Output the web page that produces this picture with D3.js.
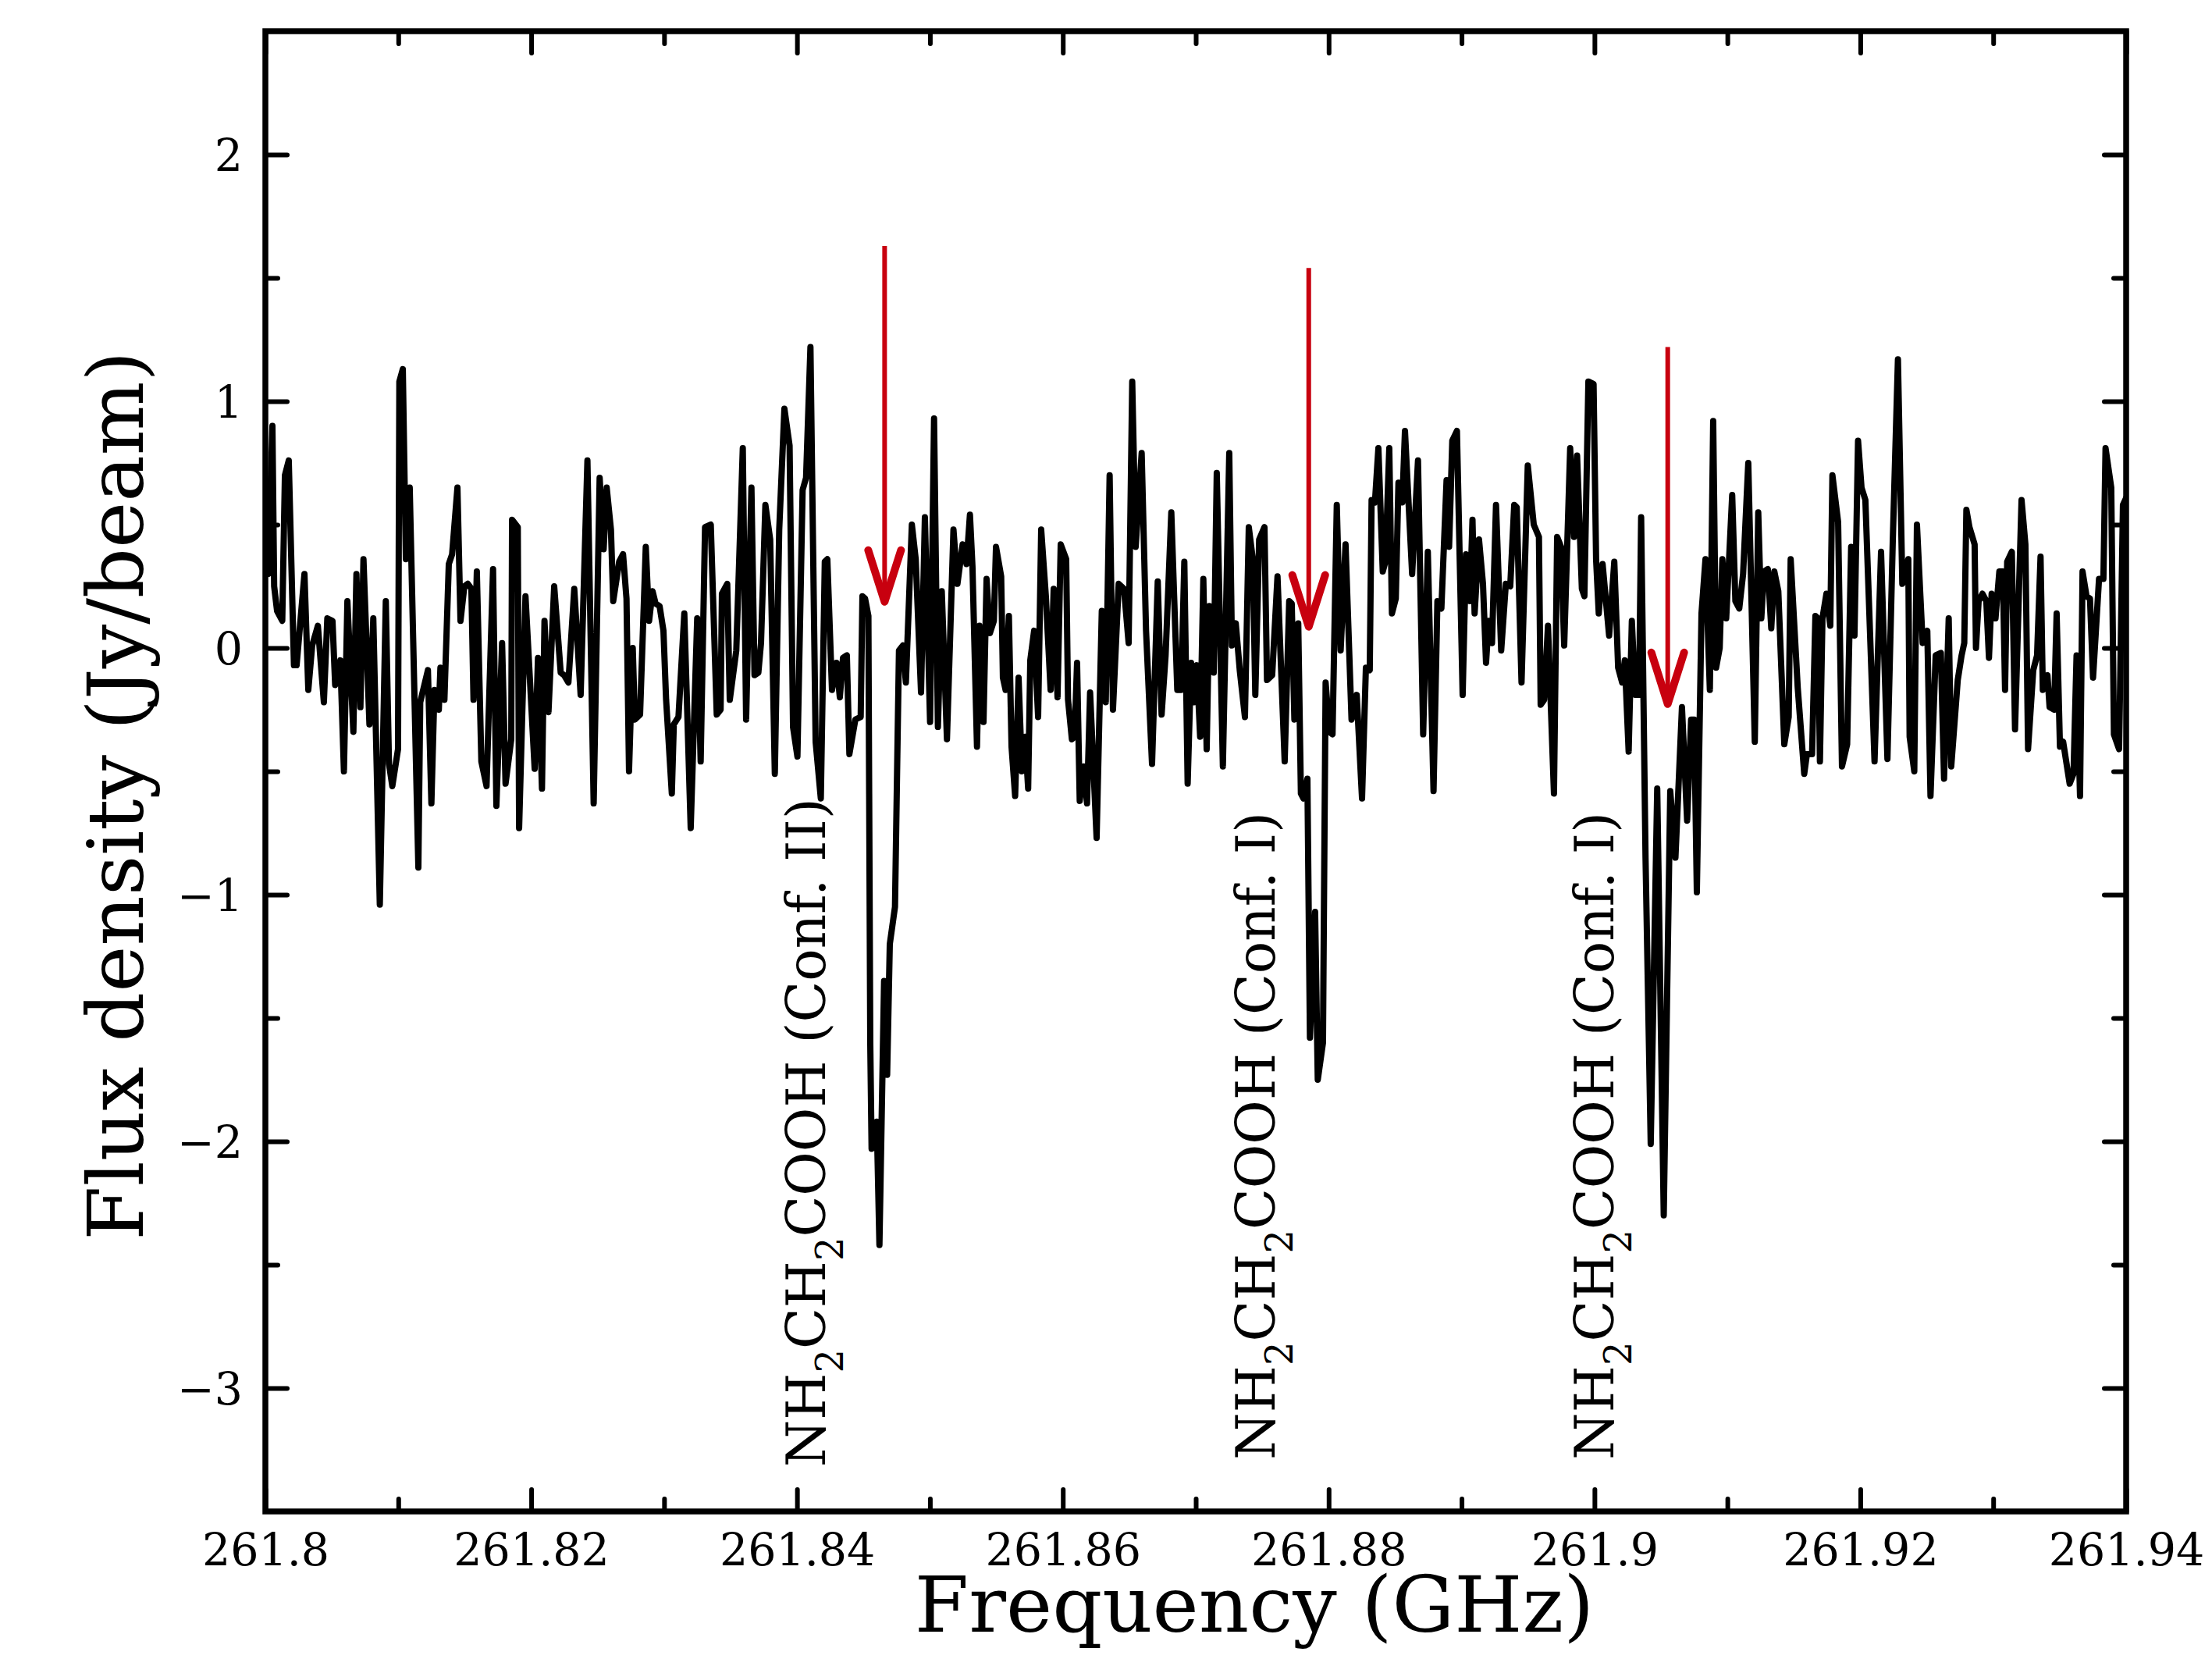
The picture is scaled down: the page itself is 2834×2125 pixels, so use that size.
<!DOCTYPE html>
<html>
<head>
<meta charset="utf-8">
<script src="https://cdn.jsdelivr.net/npm/d3@7"></script>
<style>
  html, body { margin: 0; padding: 0; background: #fff; }
  svg { display: block; }
  text { font-family: "DejaVu Serif", serif; fill: #000; }
</style>
</head>
<body>
<svg id="chart" width="2834" height="2125"></svg>
<script>
'use strict';

// spectrum: channel offsets (MHz above 261.8 GHz) and flux density (Jy/beam)
var baseGHz = 261.8;
var offsetMHz = [
    0.00, 0.20, 0.53, 0.66, 0.88, 1.27, 1.47, 1.76, 2.15, 2.35,
    2.94, 3.23, 3.52, 3.95, 4.40, 4.66, 5.05, 5.25, 5.64, 5.91,
    6.17, 6.62, 6.85, 7.15, 7.38, 7.83, 8.12, 8.61, 9.06, 9.30,
    9.55, 9.98, 10.08, 10.34, 10.57, 10.86, 11.51, 11.65, 12.23, 12.49,
    12.72, 13.05, 13.17, 13.47, 13.80, 14.05, 14.45, 14.68, 14.97, 15.23,
    15.50, 15.66, 15.91, 16.25, 16.64, 17.13, 17.38, 17.81, 18.07, 18.50,
    18.56, 18.99, 19.09, 19.57, 20.26, 20.51, 20.81, 21.00, 21.30, 21.73,
    22.22, 22.47, 22.80, 23.24, 23.72, 24.23, 24.70, 25.15, 25.45, 25.68,
    26.00, 26.17, 26.62, 26.91, 27.17, 27.36, 27.64, 27.80, 28.19, 28.62,
    28.87, 29.13, 29.36, 29.66, 29.95, 30.15, 30.58, 30.73, 31.08, 31.52,
    32.00, 32.49, 32.75, 33.08, 33.51, 33.96, 34.25, 34.35, 34.75, 34.94,
    35.43, 35.92, 36.17, 36.57, 36.80, 37.09, 37.29, 37.62, 37.98, 38.33,
    38.66, 39.05, 39.44, 39.70, 40.03, 40.42, 40.68, 41.01, 41.40, 41.79,
    42.09, 42.28, 42.63, 42.97, 43.22, 43.46, 43.75, 43.94, 44.39, 44.79,
    44.92, 45.12, 45.37, 45.51, 45.61, 46.00, 46.20, 46.55, 46.78, 46.98,
    47.37, 47.67, 47.96, 48.19, 48.64, 48.93, 49.33, 49.62, 50.01, 50.31,
    50.60, 50.89, 51.28, 51.77, 52.07, 52.46, 52.75, 53.01, 53.20, 53.54,
    53.73, 54.03, 54.26, 54.51, 54.81, 54.97, 55.36, 55.49, 55.69, 55.94,
    56.14, 56.41, 56.67, 56.92, 57.16, 57.39, 57.55, 57.84, 58.14, 58.37,
    58.72, 59.08, 59.31, 59.60, 59.84, 60.25, 60.39, 60.68, 60.88, 61.07,
    61.27, 61.56, 61.82, 62.05, 62.54, 62.93, 63.23, 63.52, 63.77, 64.20,
    64.60, 64.95, 65.22, 65.48, 65.93, 66.26, 66.71, 67.14, 67.43, 67.73,
    68.16, 68.61, 68.90, 69.14, 69.39, 69.65, 69.88, 70.08, 70.33, 70.57,
    70.82, 71.02, 71.35, 71.58, 72.04, 72.52, 72.72, 73.01, 73.31, 73.70,
    73.99, 74.29, 74.48, 74.77, 75.17, 75.36, 75.75, 76.15, 76.69, 77.03,
    77.22, 77.42, 77.71, 77.91, 78.10, 78.40, 78.59, 78.98, 79.18, 79.57,
    79.77, 80.06, 80.29, 80.61, 80.90, 81.27, 81.72, 82.11, 82.51, 82.80,
    83.09, 83.23, 83.48, 83.74, 84.07, 84.27, 84.56, 84.76, 85.05, 85.25,
    85.54, 85.74, 86.28, 86.72, 87.11, 87.46, 87.89, 88.18, 88.48, 88.87,
    89.06, 89.30, 89.65, 90.08, 90.33, 90.63, 90.82, 90.98, 91.31, 91.61,
    91.84, 92.04, 92.29, 92.59, 92.98, 93.33, 93.66, 93.96, 94.15, 94.51,
    94.98, 95.43, 95.82, 95.95, 96.21, 96.50, 96.95, 97.19, 97.48, 97.72,
    98.17, 98.46, 98.69, 99.05, 99.24, 99.54, 99.93, 100.12, 100.32, 100.61,
    101.10, 101.49, 101.78, 102.08, 102.28, 102.57, 102.81, 103.06, 103.35, 103.51,
    103.84, 104.23, 104.72, 105.21, 105.70, 106.09, 106.58, 106.97, 107.27, 107.50,
    107.70, 108.05, 108.35, 108.68, 108.93, 109.15, 109.42, 109.62, 109.91, 110.36,
    110.60, 110.89, 111.18, 111.57, 112.06, 112.32, 112.55, 112.75, 113.04, 113.30,
    113.53, 113.83, 114.28, 114.61, 114.76, 115.29, 115.78, 115.98, 116.37, 116.62,
    116.82, 116.96, 117.15, 117.45, 117.74, 117.90, 118.33, 118.62, 119.01, 119.31,
    119.56, 119.83, 120.09, 120.38, 121.07, 121.56, 122.04, 122.44, 122.83, 123.16,
    123.61, 123.71, 124.06, 124.26, 124.69, 125.04, 125.28, 125.67, 126.06, 126.30,
    126.65, 126.84, 127.33, 127.62, 127.82, 127.98, 128.21, 128.60, 128.70, 128.90,
    129.19, 129.48, 129.68, 129.88, 130.17, 130.46, 130.72, 130.89, 131.05, 131.40,
    131.64, 132.13, 132.42, 132.62, 133.01, 133.30, 133.56, 133.73, 134.08, 134.24,
    134.58, 134.77, 135.02, 135.26, 135.75, 136.04, 136.27, 136.53, 136.72, 137.02,
    137.28, 137.51, 137.96, 138.29, 138.45, 138.88, 139.08, 139.47, 139.76, 140.10
];
var fluxJy = [
    0.30, 0.30, 0.90, 0.25, 0.15, 0.11, 0.70, 0.76, -0.07, -0.07,
    0.30, -0.17, 0.01, 0.09, -0.22, 0.12, 0.11, -0.15, -0.05, -0.50,
    0.19, -0.34, 0.30, -0.24, 0.36, -0.31, 0.12, -1.04, 0.19, -0.47,
    -0.56, -0.41, 1.08, 1.13, 0.36, 0.65, -0.89, -0.22, -0.09, -0.63,
    -0.17, -0.25, -0.08, -0.21, 0.34, 0.38, 0.65, 0.11, 0.25, 0.26,
    0.24, -0.21, 0.31, -0.46, -0.56, 0.32, -0.64, 0.02, -0.55, -0.37,
    0.52, 0.49, -0.73, 0.21, -0.49, -0.04, -0.57, 0.11, -0.26, 0.25,
    -0.10, -0.11, -0.14, 0.24, -0.19, 0.76, -0.63, 0.69, 0.40, 0.65,
    0.48, 0.19, 0.35, 0.38, 0.20, -0.50, 0.00, -0.29, -0.27, 0.41,
    0.11, 0.23, 0.18, 0.17, 0.07, -0.21, -0.59, -0.31, -0.28, 0.14,
    -0.73, 0.12, -0.46, 0.49, 0.50, -0.27, -0.25, 0.22, 0.26, -0.21,
    -0.01, 0.81, -0.29, 0.65, -0.11, -0.10, 0.02, 0.58, 0.44, -0.51,
    0.48, 0.97, 0.82, -0.32, -0.44, 0.64, 0.69, 1.22, -0.38, -0.61,
    0.35, 0.36, -0.17, -0.06, -0.20, -0.04, -0.03, -0.43, -0.29, -0.28,
    0.21, 0.20, 0.13, -1.60, -2.03, -1.92, -2.42, -1.35, -1.73, -1.20,
    -1.05, -0.01, 0.01, -0.14, 0.50, 0.36, -0.18, 0.53, -0.30, 0.93,
    -0.32, 0.23, -0.37, 0.48, 0.26, 0.42, 0.34, 0.54, 0.33, -0.40,
    0.09, -0.30, 0.28, 0.06, 0.11, 0.41, 0.29, -0.12, -0.17, 0.13,
    -0.40, -0.60, -0.12, -0.50, -0.36, -0.57, -0.05, 0.07, -0.28, 0.48,
    0.21, -0.17, 0.24, -0.20, 0.42, 0.36, -0.21, -0.37, -0.36, -0.06,
    -0.62, -0.48, -0.63, -0.18, -0.77, 0.15, -0.22, 0.70, -0.25, 0.26,
    0.24, 0.02, 1.08, 0.41, 0.79, 0.07, -0.47, 0.27, -0.27, -0.03,
    0.55, -0.17, -0.17, 0.35, -0.55, -0.06, -0.22, -0.07, -0.36, 0.28,
    -0.41, 0.17, -0.10, 0.71, -0.48, 0.79, 0.01, 0.10, -0.09, -0.28,
    0.49, 0.36, -0.19, 0.44, 0.49, -0.13, -0.11, 0.29, -0.46, 0.19,
    0.18, -0.29, 0.10, -0.59, -0.61, -0.53, -1.58, -1.07, -1.75, -1.60,
    -0.14, -0.34, -0.35, 0.58, -0.01, 0.42, -0.29, -0.19, -0.61, -0.08,
    -0.09, 0.60, 0.59, 0.81, 0.31, 0.35, 0.81, 0.14, 0.20, 0.67,
    0.59, 0.88, 0.30, 0.76, -0.35, 0.39, -0.58, 0.19, 0.16, 0.68,
    0.41, 0.84, 0.88, -0.19, 0.38, 0.19, 0.52, 0.14, 0.44, 0.26,
    -0.06, 0.11, 0.02, 0.58, -0.01, 0.26, 0.25, 0.58, 0.57, -0.14,
    0.74, 0.50, 0.45, -0.23, -0.21, 0.09, -0.59, 0.45, 0.41, 0.01,
    0.81, 0.45, 0.78, 0.24, 0.21, 1.08, 1.07, 0.36, 0.14, 0.34,
    0.05, 0.35, -0.08, -0.14, -0.05, -0.42, 0.11, -0.19, -0.19, 0.53,
    -0.85, -2.01, -0.57, -2.30, -0.58, -0.85, -0.24, -0.70, -0.29, -0.29,
    -0.99, 0.14, 0.36, -0.17, 0.92, -0.08, 0.00, 0.36, 0.12, 0.62,
    0.19, 0.16, 0.30, 0.75, -0.38, 0.55, 0.12, 0.31, 0.32, 0.08,
    0.31, 0.23, -0.39, -0.28, 0.36, -0.16, -0.51, -0.43, -0.43, 0.13,
    0.12, -0.46, 0.12, 0.22, 0.09, 0.70, 0.51, -0.48, -0.39, 0.41,
    0.05, 0.84, 0.65, 0.60, -0.46, 0.39, -0.45, 0.43, 1.17, 0.26,
    0.36, -0.36, -0.50, 0.50, 0.02, 0.07, -0.60, -0.03, -0.02, -0.53,
    0.12, -0.48, -0.13, -0.03, 0.02, 0.56, 0.49, 0.42, 0.00, 0.19,
    0.22, 0.19, -0.04, 0.22, 0.12, 0.31, 0.31, -0.17, 0.35, 0.39,
    -0.33, 0.60, 0.42, -0.41, -0.09, -0.03, 0.37, -0.17, -0.11, -0.24,
    -0.25, 0.14, -0.40, -0.38, -0.55, -0.51, -0.03, -0.60, 0.31, 0.21,
    0.20, -0.12, 0.28, 0.28, 0.81, 0.65, -0.35, -0.41, 0.58, 0.62
];

// axes
var xTicksMajor = [261.80, 261.82, 261.84, 261.86, 261.88, 261.90, 261.92, 261.94];
var xTickLabels = ['261.8', '261.82', '261.84', '261.86', '261.88', '261.9', '261.92', '261.94'];
var xTicksMinor = [261.81, 261.83, 261.85, 261.87, 261.89, 261.91, 261.93];
var yTicksMajor = [-3, -2, -1, 0, 1, 2];
var yTickLabels = ['\u22123', '\u22122', '\u22121', '0', '1', '2'];
var yTicksMinor = [-2.5, -1.5, -0.5, 0.5, 1.5];

// line markers
var arrowGHz = [261.84659, 261.87850, 261.90551];
var arrowTop = [1.63, 1.54, 1.22];
var arrowTip = [0.175, 0.074, -0.24];
var labelConf = ['(Conf. II)', '(Conf. I)', '(Conf. I)'];
var labelGHz = [261.84209, 261.87595, 261.90140];
var labelFlux = [-3.32, -3.29, -3.29];

var svg = d3.select('#chart');
var plotL = 340, plotR = 2724, plotT = 40, plotB = 1936;
var red = '#c8000f';

var x = d3.scaleLinear().domain([261.8, 261.94]).range([plotL, plotR]);
var y = d3.scaleLinear().domain([-3.5, 2.5]).range([plotB, plotT]);

var spectrum = offsetMHz.map(function(d, i) {
    return {f: baseGHz + d / 1000, v: fluxJy[i]};
});

svg.append('clipPath').attr('id', 'plotArea')
    .append('rect')
    .attr('x', plotL).attr('y', plotT)
    .attr('width', plotR - plotL).attr('height', plotB - plotT);

var line = d3.line()
    .x(function(d) { return x(d.f); })
    .y(function(d) { return y(d.v); });

svg.append('path')
    .datum(spectrum)
    .attr('clip-path', 'url(#plotArea)')
    .attr('d', line)
    .attr('fill', 'none')
    .attr('stroke', '#000')
    .attr('stroke-width', 8)
    .attr('stroke-linejoin', 'round');

// red arrows
var arrows = svg.append('g').attr('stroke', red).attr('fill', 'none');
arrowGHz.forEach(function(f, i) {
    var ax = x(f), tipY = y(arrowTip[i]) - 4;
    arrows.append('line')
        .attr('x1', ax).attr('y1', y(arrowTop[i]))
        .attr('x2', ax).attr('y2', tipY)
        .attr('stroke-width', 6);
    arrows.append('polyline')
        .attr('points', [[ax - 21, tipY - 66], [ax, tipY], [ax + 21, tipY - 66]].join(' '))
        .attr('stroke-width', 10)
        .attr('stroke-linejoin', 'round')
        .attr('stroke-linecap', 'round');
});

// rotated species labels
labelConf.forEach(function(conf, i) {
    var t = svg.append('text')
        .attr('transform', 'translate(' + x(labelGHz[i]) + ',' + y(labelFlux[i]) + ') rotate(-90)')
        .attr('font-size', 69);
    var parts = [['NH', 0], ['2', 1], ['CH', 0], ['2', 1], ['COOH ' + conf, 0]];
    var shift = 0;
    parts.forEach(function(p) {
        var dy = (p[1] ? 23 : 0) - shift;
        shift = p[1] ? 23 : 0;
        var s = t.append('tspan').attr('dy', dy).text(p[0]);
        if (p[1]) s.attr('font-size', 48);
    });
});

// frame
svg.append('rect')
    .attr('x', plotL).attr('y', plotT)
    .attr('width', plotR - plotL).attr('height', plotB - plotT)
    .attr('fill', 'none')
    .attr('stroke', '#000')
    .attr('stroke-width', 7.5);

function styleAxis(g) {
    g.select('.domain').remove();
    g.attr('font-family', 'DejaVu Serif').attr('font-size', 57);
    g.selectAll('.tick line')
        .attr('stroke-width', 6)
        .attr('stroke-linecap', 'round');
}

function addAxis(axis, tx, ty, values, size, labels) {
    axis.tickValues(values).tickSizeInner(-size).tickSizeOuter(0).tickPadding(29)
        .tickFormat(labels ? function(d, i) { return labels[i]; } : function() { return ''; });
    var g = svg.append('g').attr('transform', 'translate(' + tx + ',' + ty + ')').call(axis);
    styleAxis(g);
    return g;
}

addAxis(d3.axisBottom(x), 0, plotB, xTicksMajor, 28, xTickLabels);
addAxis(d3.axisBottom(x), 0, plotB, xTicksMinor, 16, null);
addAxis(d3.axisTop(x), 0, plotT, xTicksMajor, 28, null);
addAxis(d3.axisTop(x), 0, plotT, xTicksMinor, 16, null);
var yAxisG = addAxis(d3.axisLeft(y), plotL, 0, yTicksMajor, 28, yTickLabels);
yAxisG.selectAll('text').attr('dy', '0.36em');
addAxis(d3.axisLeft(y), plotL, 0, yTicksMinor, 16, null);
addAxis(d3.axisRight(y), plotR, 0, yTicksMajor, 28, null);
addAxis(d3.axisRight(y), plotR, 0, yTicksMinor, 16, null);

// axis titles
svg.append('text')
    .attr('x', 1607).attr('y', 2090)
    .attr('text-anchor', 'middle')
    .attr('font-size', 100)
    .text('Frequency (GHz)');

svg.append('text')
    .attr('transform', 'translate(183,1019) rotate(-90)')
    .attr('text-anchor', 'middle')
    .attr('font-size', 100)
    .text('Flux density (Jy/beam)');
</script>
</body>
</html>
